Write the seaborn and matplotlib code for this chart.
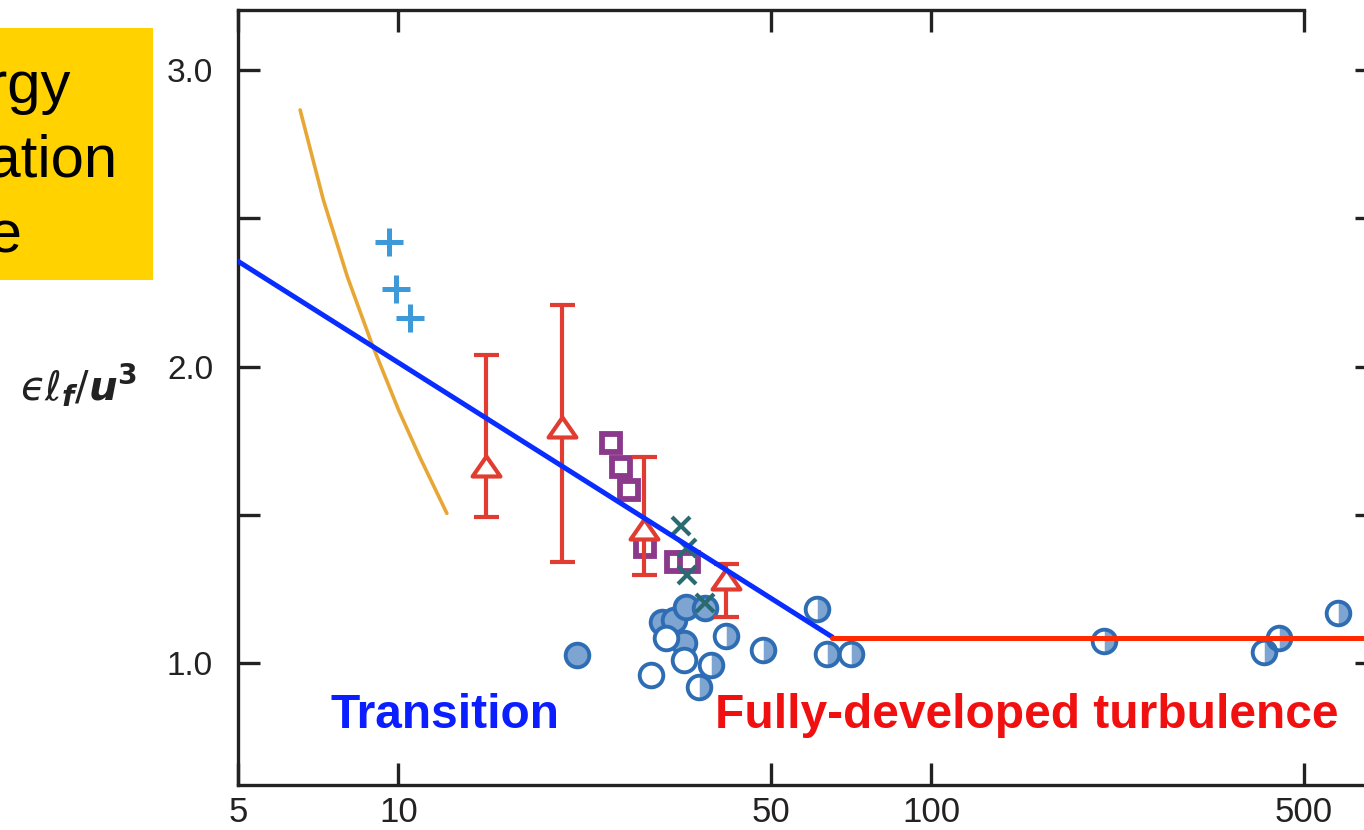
import numpy as np
import matplotlib
matplotlib.use("Agg")
import matplotlib.pyplot as plt
from matplotlib.patches import Rectangle
from matplotlib.path import Path
from matplotlib.ticker import NullLocator
import seaborn as sns

# ---- data ----
# orange curve
curve_x = [6.54, 7.23, 8.02, 8.91, 10.01, 10.96, 12.33]
curve_y = [2.865, 2.562, 2.303, 2.078, 1.853, 1.696, 1.505]

# fitted lines: transition (blue) and fully-developed (red)
trans_x = [5.0, 65.2]
trans_y = [2.355, 1.088]
full_x = [65.2, 700.0]
full_y = [1.085, 1.085]

# plus markers
plus_x = [9.62, 9.91, 10.53]
plus_y = [2.420, 2.261, 2.164]

# open triangles with error bars
tri_x = [14.58, 20.25, 28.9, 41.2]
tri_y = [1.664, 1.796, 1.452, 1.283]
tri_lo = [1.492, 1.341, 1.297, 1.155]
tri_hi = [2.039, 2.207, 1.695, 1.334]

# open squares
sq_x = [25.03, 26.15, 27.06, 29.0, 33.2, 35.1]
sq_y = [1.742, 1.661, 1.583, 1.391, 1.341, 1.341]

# crosses
cross_x = [33.9, 34.8, 34.8, 37.6]
cross_y = [1.462, 1.388, 1.297, 1.202]

# circles: filled, empty, half filled
fill_x = [21.6, 31.2, 32.9, 34.6, 37.6, 34.3]
fill_y = [1.027, 1.138, 1.145, 1.189, 1.185, 1.067]
empty_x = [29.8, 31.8, 34.3]
empty_y = [0.960, 1.084, 1.010]
half_x = [38.6, 36.6, 41.2, 48.3, 61.1, 63.8, 70.7, 211.4, 420.7, 448.8, 579.4]
half_y = [0.993, 0.919, 1.091, 1.044, 1.182, 1.030, 1.030, 1.074, 1.037, 1.084, 1.169]

x_ticks = [5, 10, 50, 100, 500]
x_ticklabels = ["5", "10", "50", "100", "500"]
y_ticks = [1.0, 1.5, 2.0, 2.5, 3.0]
y_ticklabels = ["1.0", "", "2.0", "", "3.0"]

# ---- style ----
sns.set_style("ticks")
plt.rcParams["font.family"] = ["Liberation Sans", "DejaVu Sans"]
plt.rcParams["mathtext.fontset"] = "dejavusans"

circ_edge = "#2e6db4"
circ_fill = "#7ea5d2"
red = "#e03c31"
ms_c = 17
mew_c = 2.8

fig = plt.figure(figsize=(13.64, 8.30), dpi=100)
ax = fig.add_axes([238 / 1364, 45 / 830, (1377 - 238) / 1364, 775 / 830])
ax.set_xscale("log")

# circles
sns.scatterplot(x=fill_x, y=fill_y, ax=ax, marker="o", s=ms_c**2, color=circ_fill,
                edgecolor=circ_edge, linewidth=mew_c, zorder=3)
sns.scatterplot(x=empty_x, y=empty_y, ax=ax, marker="o", s=ms_c**2, color="white",
                edgecolor=circ_edge, linewidth=mew_c, zorder=3)
# half filled: fill first, then the outline on top
ax.plot(half_x, half_y, linestyle="none", marker="o", ms=ms_c, mew=0,
        mfc=circ_fill, fillstyle="right", mfcalt="white", zorder=3)
ax.plot(half_x, half_y, linestyle="none", marker="o", ms=ms_c, mew=mew_c,
        mec=circ_edge, mfc="none", zorder=3)

# squares
ax.plot(sq_x, sq_y, linestyle="none", marker="s", ms=13, mew=4.2,
        mec="#8b3a8b", mfc="white", zorder=4)

# triangles with error bars
tri_marker = Path([(0, 0.72), (-1, -0.72), (1, -0.72), (0, 0.72)], closed=True)
ty = np.array(tri_y)
yerr = [ty - np.array(tri_lo), np.array(tri_hi) - ty]
ax.errorbar(tri_x, tri_y, yerr=yerr, fmt="none", ecolor=red, elinewidth=3,
            capsize=9, capthick=3, zorder=5)
ax.plot(tri_x, tri_y, linestyle="none", marker=tri_marker, ms=20, mew=3,
        mec=red, mfc="white", zorder=5)

# crosses and pluses
ax.plot(cross_x, cross_y, linestyle="none", marker="x", ms=13, mew=3,
        color="#2a6a72", zorder=6)
ax.plot(plus_x, plus_y, linestyle="none", marker="+", ms=20, mew=3.6,
        color="#3c9ad8", zorder=6)

# lines
sns.lineplot(x=curve_x, y=curve_y, ax=ax, color="#e8a735", linewidth=2.6, zorder=7)
sns.lineplot(x=trans_x, y=trans_y, ax=ax, color="#0a2dff", linewidth=3.6, zorder=8)
sns.lineplot(x=full_x, y=full_y, ax=ax, color="#ff2a00", linewidth=3.6, zorder=8)

# labels in the plot
ax.text(7.45, 0.781, "Transition", color="#0a1eff", fontsize=34.5,
        fontweight="bold", va="baseline", ha="left")
ax.text(39.3, 0.781, "Fully-developed turbulence", color="#f01010", fontsize=34.5,
        fontweight="bold", va="baseline", ha="left")

# axes
ax.set_xlim(5, 686.5)
ax.set_ylim(0.589, 3.202)
ax.set_xticks(x_ticks)
ax.set_xticklabels(x_ticklabels)
ax.xaxis.set_minor_locator(NullLocator())
ax.set_yticks(y_ticks)
ax.set_yticklabels(y_ticklabels)
ax.yaxis.set_minor_locator(NullLocator())
ax.tick_params(axis="both", direction="in", length=16, width=2.4, color="#222222",
               top=True, right=True, labelcolor="#222222")
ax.tick_params(axis="x", pad=8, labelsize=25)
ax.tick_params(axis="y", pad=18, labelsize=24)
for sp in ax.spines.values():
    sp.set_linewidth(2.4)
    sp.set_color("#222222")
ax.spines["top"].set_bounds(5, 500)
ax.set_xlabel("")
ax.set_ylabel("")

# y label
fig.text(78 / 1364, 1 - 385 / 830,
         "$\u03f5\\ell_{\\mathbfit{f}}/\\mathbfit{u}^{\\mathbf{3}}$",
         fontsize=29, ha="center", va="center", color="#222222")

# yellow box at top left (cropped in the reference)
fig.patches.append(Rectangle((0, 1 - 280 / 830), 153 / 1364, 252 / 830,
                             transform=fig.transFigure, facecolor="#ffd200",
                             edgecolor="none", zorder=0))
for line, right, base in zip(["Energy", "dissipation", "rate"], [70, 118, 22], [103, 177, 252]):
    fig.text(right / 1364, 1 - base / 830, line, fontsize=43, ha="right",
             va="baseline", color="black")

fig.savefig("out.png", dpi=100)
